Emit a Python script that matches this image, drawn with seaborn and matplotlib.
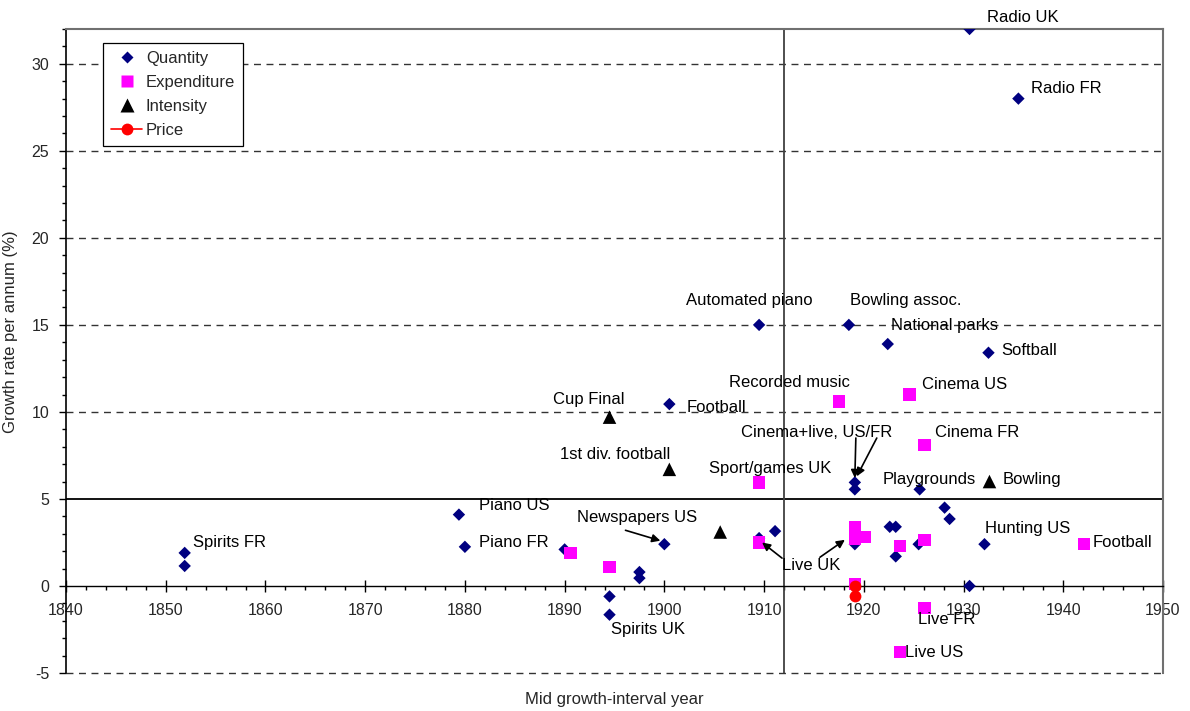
import matplotlib
matplotlib.use("Agg")
import matplotlib.pyplot as plt
from matplotlib.lines import Line2D
from matplotlib.ticker import MultipleLocator
import pandas as pd
import seaborn as sns

# Growth series: mid-year of the growth interval and growth rate (% per annum)
qty_year = [1930.6, 1935.5, 1909.5, 1918.5, 1922.4, 1932.5, 1900.5, 1919.1, 1919.1,
            1925.6, 1879.4, 1880.0, 1851.9, 1851.9, 1890.0, 1894.5, 1894.5, 1897.5,
            1897.5, 1900.0, 1909.5, 1911.1, 1919.1, 1922.6, 1923.2, 1923.2, 1925.5,
            1928.1, 1928.6, 1932.1, 1930.6]
qty_rate = [32.0, 28.0, 15.0, 15.0, 13.9, 13.4, 10.45, 5.95, 5.55,
            5.55, 4.1, 2.25, 1.9, 1.15, 2.1, -0.6, -1.65, 0.8,
            0.45, 2.4, 2.75, 3.15, 2.4, 3.4, 3.4, 1.7, 2.4,
            4.5, 3.85, 2.4, 0.0]

exp_year = [1917.5, 1924.6, 1926.1, 1909.5, 1890.6, 1894.5, 1909.5, 1919.1, 1919.1,
            1920.1, 1919.1, 1923.6, 1926.1, 1942.1, 1926.1, 1923.6]
exp_rate = [10.6, 11.0, 8.1, 5.95, 1.9, 1.1, 2.5, 3.4, 2.7,
            2.8, 0.1, 2.3, 2.65, 2.4, -1.25, -3.8]

int_year = [1894.5, 1900.5, 1905.6, 1932.6]
int_rate = [9.7, 6.7, 3.1, 6.0]

price_year = [1919.1, 1919.1]
price_rate = [0.0, -0.6]

# Point labels: text and placement (left edge, vertical centre)
labels = [
    ("Radio UK", 1932.4, 32.65),
    ("Radio FR", 1936.8, 28.6),
    ("Automated piano", 1902.2, 16.4),
    ("Bowling assoc.", 1918.6, 16.4),
    ("National parks", 1922.7, 14.95),
    ("Softball", 1933.8, 13.55),
    ("Football", 1902.2, 10.25),
    ("Cup Final", 1888.8, 10.7),
    ("Recorded music", 1906.5, 11.7),
    ("Cinema US", 1925.8, 11.6),
    ("Cinema FR", 1927.1, 8.8),
    ("1st div. football", 1889.5, 7.55),
    ("Sport/games UK", 1904.5, 6.75),
    ("Cinema+live, US/FR", 1907.7, 8.8),
    ("Playgrounds", 1921.9, 6.1),
    ("Bowling", 1933.9, 6.1),
    ("Piano US", 1881.4, 4.65),
    ("Piano FR", 1881.4, 2.5),
    ("Spirits FR", 1852.7, 2.5),
    ("Newspapers US", 1891.2, 3.95),
    ("Live UK", 1911.8, 1.2),
    ("Hunting US", 1932.2, 3.3),
    ("Football", 1942.9, 2.5),
    ("Spirits UK", 1894.6, -2.5),
    ("Live FR", 1925.4, -1.95),
    ("Live US", 1924.1, -3.8),
]

# Arrows: (tail x, tail y, head x, head y)
arrows = [
    (1896.1, 3.2, 1899.6, 2.6),
    (1911.8, 1.6, 1909.8, 2.5),
    (1915.6, 1.65, 1918.1, 2.65),
    (1919.2, 8.5, 1919.1, 6.2),
    (1921.3, 8.5, 1919.3, 6.3),
]

sns.set_style("white")
plt.rcParams["font.family"] = ["Liberation Sans", "DejaVu Sans"]
plt.rcParams["font.size"] = 12
plt.rcParams["axes.unicode_minus"] = False

fig = plt.figure(figsize=(11.9, 7.11), dpi=100)
ax = fig.add_axes([66 / 1190, 38 / 711, 1097 / 1190, 644 / 711])

navy = "#000080"
magenta = "#FF00FF"
red = "#FF0000"

qty = pd.DataFrame({"year": qty_year, "rate": qty_rate})
exp = pd.DataFrame({"year": exp_year, "rate": exp_rate})
inten = pd.DataFrame({"year": int_year, "rate": int_rate})
price = pd.DataFrame({"year": price_year, "rate": price_rate})

# reference grid and quadrant lines
for yv in [10, 15, 20, 25, 30, -5]:
    ax.axhline(yv, color="#333333", lw=1.0, ls=(0, (5, 4)), zorder=1, clip_on=False)
ax.axhline(5, color="black", lw=1.3, zorder=1)
ax.axvline(1912, color="#404040", lw=1.3, zorder=1)

sns.scatterplot(data=qty, x="year", y="rate", marker="D", s=40, color=navy,
                edgecolor="none", ax=ax, zorder=3, legend=False)
sns.scatterplot(data=exp, x="year", y="rate", marker="s", s=80, color=magenta,
                edgecolor="none", ax=ax, zorder=4, legend=False)
sns.scatterplot(data=inten, x="year", y="rate", marker="^", s=95, color="black",
                edgecolor="none", ax=ax, zorder=4, legend=False)
sns.lineplot(data=price, x="year", y="rate", color=red, marker="o", markersize=8.5,
             markeredgecolor="none", lw=1.2, ax=ax, zorder=5, estimator=None,
             sort=False, legend=False)

for text, x, y in labels:
    ax.text(x, y, text, ha="left", va="center", fontsize=12, color="black",
            zorder=6, clip_on=False)

for x0, y0, x1, y1 in arrows:
    ax.annotate("", xy=(x1, y1), xytext=(x0, y0),
                arrowprops=dict(arrowstyle="-|>", color="black", lw=1.2,
                                mutation_scale=12, shrinkA=0, shrinkB=0),
                zorder=6)

ax.set_xlim(1840, 1950)
ax.set_ylim(-5, 32)

ax.xaxis.set_major_locator(MultipleLocator(10))
ax.xaxis.set_minor_locator(MultipleLocator(2))
ax.yaxis.set_major_locator(MultipleLocator(5))
ax.yaxis.set_minor_locator(MultipleLocator(1))

ax.spines["bottom"].set_position(("data", 0))
ax.spines["bottom"].set_color("black")
ax.spines["bottom"].set_linewidth(1.0)
ax.spines["left"].set_color("black")
ax.spines["left"].set_linewidth(1.2)
for side in ["top", "right"]:
    ax.spines[side].set_visible(True)
    ax.spines[side].set_color("#707070")
    ax.spines[side].set_linewidth(1.5)

ax.tick_params(axis="x", which="major", direction="inout", length=8, width=1,
               color="black", pad=8, labelsize=11.5, bottom=True)
ax.tick_params(axis="x", which="minor", direction="out", length=3, width=1,
               color="black", bottom=True)
ax.tick_params(axis="y", which="major", direction="out", length=5, width=1,
               color="black", pad=7, labelsize=11.5, left=True)
ax.tick_params(axis="y", which="minor", direction="out", length=3, width=1,
               color="black", left=True)

ax.set_xlabel("Mid growth-interval year", fontsize=12)
ax.set_ylabel("Growth rate per annum (%)", fontsize=12)
ax.xaxis.set_label_coords(0.5, -0.03)
ax.yaxis.set_label_coords(-0.044, 0.53)

handles = [
    Line2D([], [], ls="none", marker="D", color=navy, markersize=6.5, markeredgecolor="none"),
    Line2D([], [], ls="none", marker="s", color=magenta, markersize=9, markeredgecolor="none"),
    Line2D([], [], ls="none", marker="^", color="black", markersize=9.5, markeredgecolor="none"),
    Line2D([], [], color=red, lw=1.2, marker="o", markersize=8.5, markeredgecolor="none"),
]
leg = ax.legend(handles, ["Quantity", "Expenditure", "Intensity", "Price"],
                loc="upper left", bbox_to_anchor=(0.034, 0.978), fontsize=12,
                frameon=True, fancybox=False, framealpha=1, edgecolor="black",
                handlelength=1.9, handletextpad=0.2, labelspacing=0.55,
                borderpad=0.45, borderaxespad=0)
leg.get_frame().set_linewidth(0.9)

fig.savefig("out.png", dpi=100)
